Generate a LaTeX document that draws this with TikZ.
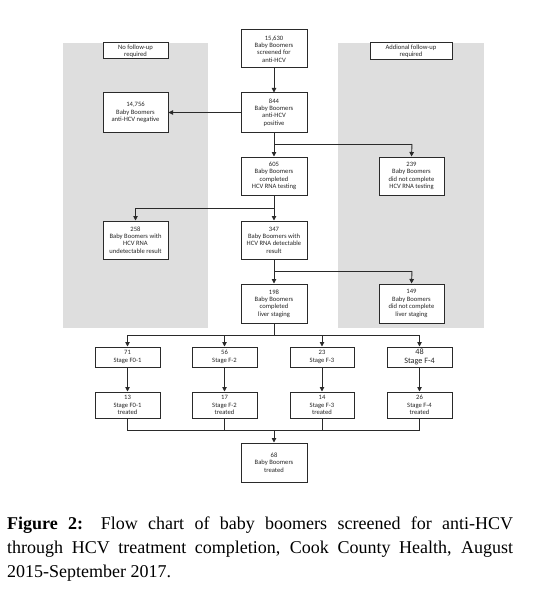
\documentclass[tikz,border=0pt]{standalone}
\usepackage{fontspec}
\setmainfont{Liberation Serif}
\newfontfamily\boxfont{Carlito}
\usetikzlibrary{arrows.meta}
\definecolor{panelgray}{HTML}{DEDEDE}
\definecolor{linecol}{HTML}{2A2A2A}
\begin{document}
\begin{tikzpicture}[x=1pt,y=-1pt,
  bx/.style={draw=linecol, line width=1pt, fill=white, inner sep=0pt, align=center,
    font=\boxfont\fontsize{6.6}{7.4}\selectfont, text=black!85},
  conn/.style={draw=linecol, line width=0.9pt},
  arr/.style={conn, -{Triangle[length=4.5pt,width=4.5pt]}},
  panel/.style={fill=panelgray, draw=none}]
\path[fill=white] (0,0) rectangle (548,591);
\useasboundingbox (0,0) rectangle (548,591);
% panels
\path[panel] (63,43) rectangle (208,328);
\path[panel] (338,43) rectangle (484,328);
% boxes
\node[bx, minimum width=65pt, minimum height=16pt] (nofu) at (135.5,51) {No follow-up\\required};
\node[bx, minimum width=82pt, minimum height=17pt] (addfu) at (411,51.5) {Addional follow-up\\required};
\node[bx, minimum width=66pt, minimum height=38pt] (b1) at (274,49) {15,630\\Baby Boomers\\screened for\\anti-HCV};
\node[bx, minimum width=66pt, minimum height=39pt] (b2) at (274,112.5) {844\\Baby Boomers\\anti-HCV\\positive};
\node[bx, minimum width=65pt, minimum height=39pt] (neg) at (135.5,112.5) {14,756\\Baby Boomers\\anti-HCV negative};
\node[bx, minimum width=66pt, minimum height=38pt] (b3) at (274,176) {605\\Baby Boomers\\completed\\HCV RNA testing};
\node[bx, minimum width=65pt, minimum height=38pt] (r1) at (411.5,176) {239\\Baby Boomers\\did not complete\\HCV RNA testing};
\node[bx, minimum width=65pt, minimum height=38pt] (und) at (135.5,240) {258\\Baby Boomers with\\HCV RNA\\undetectable result};
\node[bx, minimum width=66pt, minimum height=38pt] (b4) at (274,240) {347\\Baby Boomers with\\HCV RNA detectable\\result};
\node[bx, minimum width=66pt, minimum height=39pt] (b5) at (274,303.5) {198\\Baby Boomers\\completed\\liver staging};
\node[bx, minimum width=65pt, minimum height=39pt] (r2) at (411.5,303.5) {149\\Baby Boomers\\did not complete\\liver staging};
\node[bx, minimum width=65pt, minimum height=20pt] (s1) at (127.5,357) {71\\Stage F0-1};
\node[bx, minimum width=65pt, minimum height=20pt] (s2) at (224.5,357) {56\\Stage F-2};
\node[bx, minimum width=64pt, minimum height=20pt] (s3) at (322,357) {23\\Stage F-3};
\node[bx, minimum width=65pt, minimum height=20pt, font=\boxfont\fontsize{8.2}{8.6}\selectfont] (s4) at (419.5,357) {48\\Stage F-4};
\node[bx, minimum width=65pt, minimum height=26pt] (t1) at (127.5,405) {13\\Stage F0-1\\treated};
\node[bx, minimum width=65pt, minimum height=26pt] (t2) at (224.5,405) {17\\Stage F-2\\treated};
\node[bx, minimum width=64pt, minimum height=26pt] (t3) at (322,405) {14\\Stage F-3\\treated};
\node[bx, minimum width=65pt, minimum height=26pt] (t4) at (419.5,405) {26\\Stage F-4\\treated};
\node[bx, minimum width=66pt, minimum height=39pt] (fin) at (274,462.5) {68\\Baby Boomers\\treated};
% junction coordinates
\coordinate (j1) at (274,144);
\coordinate (j1r) at (412,144);
\coordinate (j2) at (274,208);
\coordinate (j2l) at (135.5,208);
\coordinate (j3) at (274,271);
\coordinate (j3r) at (412,271);
\coordinate (j4) at (274,335);
\coordinate (j4l) at (127.5,335);
\coordinate (j4a) at (224.5,335);
\coordinate (j4b) at (322,335);
\coordinate (j4r) at (419.5,335);
\coordinate (j5) at (274,430);
\coordinate (j5l) at (127.5,430);
\coordinate (j5r) at (419.5,430);
% connectors
\draw[arr] (b1) -- (b2);
\draw[arr] (b2) -- (neg);
\draw[arr] (b2) -- (b3);
\draw[conn] (j1) -- (j1r);
\draw[arr] (j1r) -- (r1.north);
\draw[conn] (b3) -- (j2);
\draw[conn] (j2) -- (j2l);
\draw[arr] (j2l) -- (und.north);
\draw[arr] (j2) -- (b4);
\draw[arr] (b4) -- (b5);
\draw[conn] (j3) -- (j3r);
\draw[arr] (j3r) -- (r2.north);
\draw[conn] (b5) -- (j4);
\draw[conn] (j4l) -- (j4r);
\draw[arr] (j4l) -- (s1.north);
\draw[arr] (j4a) -- (s2.north);
\draw[arr] (j4b) -- (s3.north);
\draw[arr] (j4r) -- (s4.north);
\draw[arr] (s1) -- (t1);
\draw[arr] (s2) -- (t2);
\draw[arr] (s3) -- (t3);
\draw[arr] (s4) -- (t4);
\draw[conn] (t1.south) -- (j5l) -- (j5r) -- (t4.south);
\draw[conn] (t2.south) -- (t2.south |- j5);
\draw[conn] (t3.south) -- (t3.south |- j5);
\draw[arr] (j5) -- (fin);
% caption
\node[anchor=north west, inner sep=0pt, text width=506pt, align=justify,
  font=\fontsize{18}{24}\selectfont] (cap) at (7,517)
  {\textbf{Figure 2:} Flow chart of baby boomers screened for anti-HCV\linebreak through HCV treatment completion, Cook County Health, August\linebreak 2015-September 2017.};
\end{tikzpicture}
\end{document}
